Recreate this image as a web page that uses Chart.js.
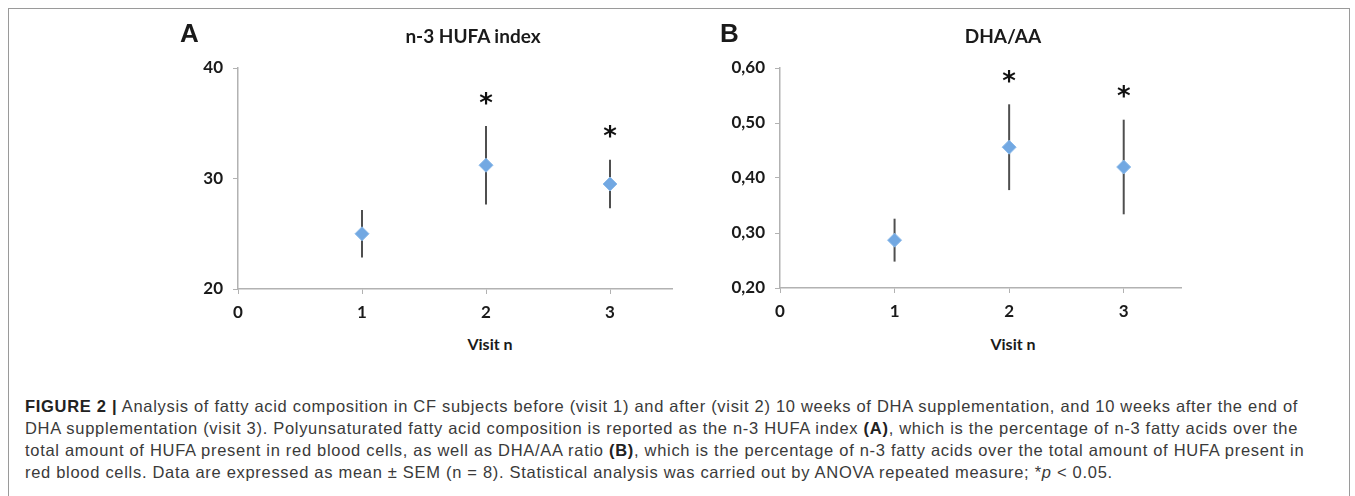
<!DOCTYPE html>
<html>
<head>
<meta charset="utf-8">
<script src="https://cdn.jsdelivr.net/npm/chart.js@4.4.1/dist/chart.umd.min.js"></script>
<style>
  body{margin:0;background:#fff;width:1355px;height:496px;overflow:hidden;position:relative}
  .frame{position:absolute;left:8px;top:8px;width:1342px;height:520px;border:1.5px solid #9a9a9a;box-sizing:border-box}
  canvas{position:absolute;top:0}
  .txt{position:absolute;white-space:nowrap;color:#1a1a1a}
  .letter{font:bold 26px "Liberation Sans",Arial,sans-serif;line-height:26px}
  .title{font:bold 19px Lato,sans-serif;line-height:22.8px;width:240px;text-align:center}
  .axis{font:bold 16px Lato,sans-serif;line-height:19.2px;width:200px;text-align:center}
  .caption{position:absolute;left:25px;top:395px;font:16.5px "Liberation Sans",Arial,sans-serif;letter-spacing:0.7px;line-height:22px;color:#3a3a3a;white-space:nowrap}
  .caption b{color:#222}
</style>
</head>
<body>
<div class="frame"></div>

<canvas id="chart-a" width="690" height="330" style="left:0"></canvas>
<canvas id="chart-b" width="650" height="330" style="left:690px"></canvas>

<div class="txt letter" style="left:180px;top:20px">A</div>
<div class="txt letter" style="left:720px;top:20px">B</div>
<div class="txt title" style="left:353px;top:25px">n-3 HUFA index</div>
<div class="txt title" style="left:883px;top:25px">DHA/AA</div>
<div class="txt axis" style="left:390px;top:334px">Visit n</div>
<div class="txt axis" style="left:913px;top:334px">Visit n</div>

<div class="caption">
<b>FIGURE 2 |</b> Analysis of fatty acid composition in CF subjects before (visit 1) and after (visit 2) 10 weeks of DHA supplementation, and 10 weeks after the end of<br>
DHA supplementation (visit 3). Polyunsaturated fatty acid composition is reported as the n-3 HUFA index <b>(A)</b>, which is the percentage of n-3 fatty acids over the<br>
total amount of HUFA present in red blood cells, as well as DHA/AA ratio <b>(B)</b>, which is the percentage of n-3 fatty acids over the total amount of HUFA present in<br>
red blood cells. Data are expressed as mean ± SEM (n = 8). Statistical analysis was carried out by ANOVA repeated measure; *<i>p</i> &lt; 0.05.
</div>

<script>
// data
const visits = [1, 2, 3]
const hufaMean = [25.0, 31.2, 29.5]
const hufaSem = [2.15, 3.55, 2.2]
const dhaMean = [0.287, 0.456, 0.420]
const dhaSem = [0.039, 0.078, 0.086]
const significant = [false, true, true]

const xTicks = [0, 1, 2, 3]
const hufaTicks = [20, 30, 40]
const dhaTicks = [0.2, 0.3, 0.4, 0.5, 0.6]

const axisGrey = '#b2b2b2'
const tickFont = {family: 'Lato', size: 17, weight: 'bold'}

// vertical SEM bars + asterisks above the significant visits
const errorBars = {
    id: 'errorBars',
    beforeDatasetsDraw(chart, args, opts) {
        const {ctx, scales: {x, y}} = chart
        ctx.save()
        ctx.strokeStyle = '#4f4f4f'
        ctx.lineWidth = 2
        opts.mean.forEach((m, i) => {
            const px = x.getPixelForValue(visits[i])
            ctx.beginPath()
            ctx.moveTo(px, y.getPixelForValue(m + opts.sem[i]))
            ctx.lineTo(px, y.getPixelForValue(m - opts.sem[i]))
            ctx.stroke()
        })
        ctx.restore()
    },
    afterDatasetsDraw(chart, args, opts) {
        const {ctx, scales: {x, y}} = chart
        ctx.save()
        ctx.fillStyle = '#111'
        ctx.font = 'bold 26px "DejaVu Sans"'
        ctx.textAlign = 'center'
        ctx.textBaseline = 'alphabetic'
        const m = ctx.measureText('*')
        const shift = (m.actualBoundingBoxAscent - m.actualBoundingBoxDescent) / 2
        opts.mean.forEach((v, i) => {
            if (!significant[i]) return
            const cy = y.getPixelForValue(v + opts.sem[i]) - 28
            ctx.fillText('*', x.getPixelForValue(visits[i]), cy + shift)
        })
        ctx.restore()
    }
}

const makeChart = (canvasId, mean, sem, yTicks, fmt, box) => {
    new Chart(document.getElementById(canvasId), {
        type: 'scatter',
        data: {
            datasets: [{
                data: visits.map((v, i) => ({x: v, y: mean[i]})),
                pointStyle: 'rectRot',
                pointRadius: 7,
                backgroundColor: '#72a8e2',
                borderColor: '#8dbbea',
                borderWidth: 1
            }]
        },
        options: {
            responsive: false,
            animation: false,
            devicePixelRatio: 1,
            layout: {padding: {top: box.top, right: box.right, left: 0, bottom: 0}},
            plugins: {
                legend: {display: false},
                tooltip: {enabled: false},
                errorBars: {mean: mean, sem: sem}
            },
            scales: {
                x: {
                    type: 'linear',
                    min: 0,
                    max: 3.5,
                    afterBuildTicks: s => { s.ticks = xTicks.map(v => ({value: v})) },
                    afterFit: s => { s.height = box.xHeight },
                    ticks: {color: '#1a1a1a', font: tickFont, padding: 8},
                    grid: {drawOnChartArea: false, color: axisGrey, tickLength: 5},
                    border: {color: axisGrey, width: 1.5}
                },
                y: {
                    min: yTicks[0],
                    max: yTicks[yTicks.length - 1],
                    afterBuildTicks: s => { s.ticks = yTicks.map(v => ({value: v})) },
                    afterFit: s => { s.width = box.yWidth },
                    ticks: {color: '#1a1a1a', font: tickFont, padding: 10, callback: fmt},
                    grid: {drawOnChartArea: false, color: axisGrey, tickLength: 5},
                    border: {color: axisGrey, width: 1.5}
                }
            }
        },
        plugins: [errorBars]
    })
}

makeChart('chart-a', hufaMean, hufaSem, hufaTicks, v => String(v),
    {top: 68, right: 18, yWidth: 238, xHeight: 41})
makeChart('chart-b', dhaMean, dhaSem, dhaTicks, v => v.toFixed(2).replace('.', ','),
    {top: 68, right: 159, yWidth: 90, xHeight: 42})
</script>
</body>
</html>
